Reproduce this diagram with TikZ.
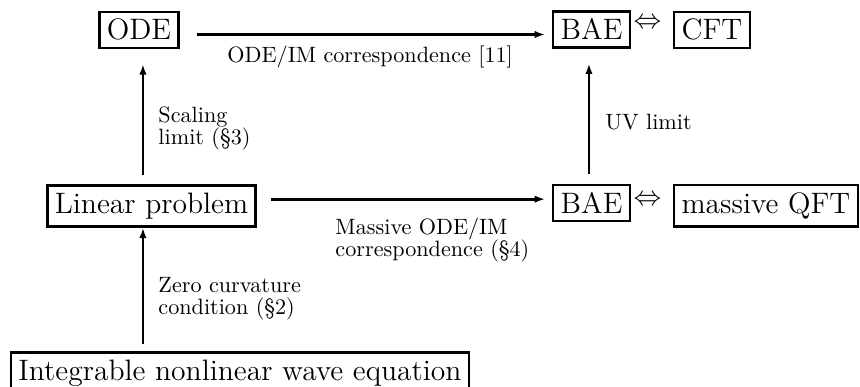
\documentclass[tikz,border=0pt]{standalone}
\usepackage{amsmath, amssymb}
\usepackage{tikz}
\usetikzlibrary{arrows.meta}

\begin{document}
\begin{tikzpicture}[x=0.433pt,y=-0.433pt,
  box/.style={draw,line width=1pt,inner sep=3.2pt,anchor=base,font=\fontsize{12.8}{15}\selectfont},
  arr/.style={line width=1.15pt,-{Latex[length=4.5pt,width=3.2pt]}},
  lbl/.style={font=\fontsize{9.6}{9.7}\selectfont,align=left,inner sep=0pt,anchor=base west}]
\useasboundingbox (0,0) rectangle (860,387);
% top row
\node[box] (ode) at (139,40) {ODE};
\node[box] (baetop) at (591.5,40) {BAE};
\node[font=\fontsize{12.8}{15}\selectfont] (eqtop) at (647.5,23) {$\Leftrightarrow$};
\node[box] (cft) at (712,40) {CFT};
% middle row
\node[box] (linear) at (151.5,213.5) {Linear problem};
\node[box] (baemid) at (591.5,213.5) {BAE};
\node[font=\fontsize{12.8}{15}\selectfont] (eqmid) at (647.5,200) {$\Leftrightarrow$};
\node[box] (qft) at (766,213.5) {massive QFT};
% bottom
\node[box] (wave) at (240,380.5) {Integrable nonlinear wave equation};
% labels (base = last line)
\node[lbl] (odeimlbl) at (227,63) {ODE/IM correspondence [11]};
\node[lbl] (scalelbl) at (158,144.5) {Scaling\\limit (\S3)};
\node[lbl] (uvlbl) at (605,130) {UV limit};
\node[lbl] (massivelbl) at (335,257) {Massive ODE/IM\\correspondence (\S4)};
\node[lbl] (zerolbl) at (158,314.5) {Zero curvature\\condition (\S2)};
% arrows
\draw[arr,shorten <=7.4pt,shorten >=3pt] ([yshift=-2pt]ode.east) -- ([yshift=-2pt]ode.east -| baetop.west);
\draw[arr,shorten <=6pt,shorten >=3pt] ([yshift=3pt]linear.east) -- ([yshift=3pt]linear.east -| baemid.west);
\draw[arr,shorten <=4.3pt,shorten >=6.5pt] ([xshift=-3.7pt]linear.north) -- ([xshift=-3.7pt]linear.north |- ode.south);
\draw[arr,shorten <=4.3pt,shorten >=6.5pt] ([xshift=-1.1pt]baemid.north) -- ([xshift=-1.1pt]baemid.north |- baetop.south);
\draw[arr,shorten <=3.4pt] ([xshift=-3.7pt]linear.south |- wave.north) -- ([xshift=-3.7pt]linear.south);
\end{tikzpicture}
\end{document}
